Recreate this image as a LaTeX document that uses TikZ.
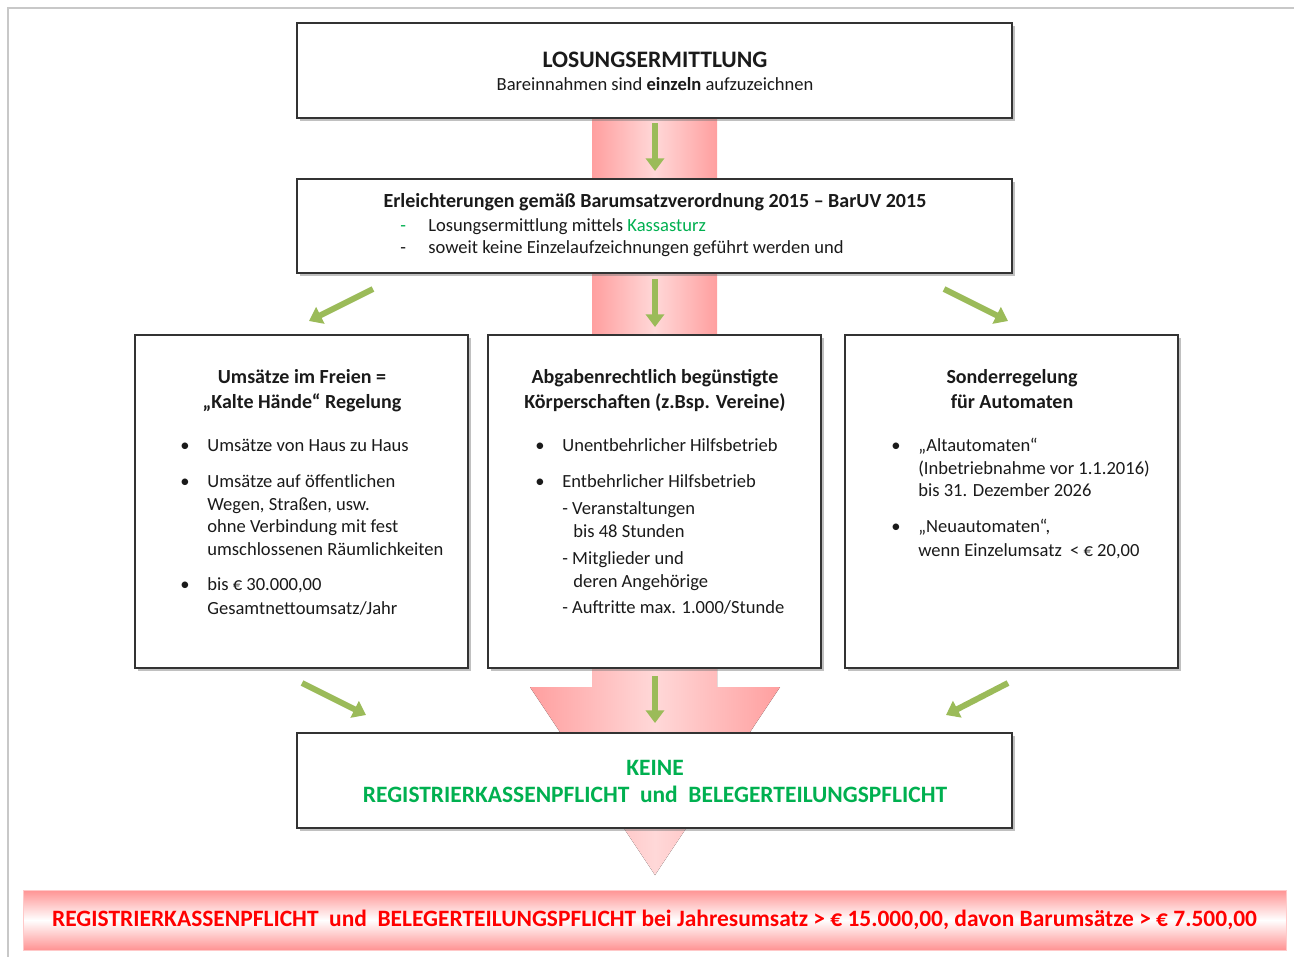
\documentclass[tikz,border=0pt]{standalone}
\usepackage{fontspec}
\setmainfont{Carlito}
\usetikzlibrary{arrows.meta,shadows}
\definecolor{frameGrey}{HTML}{C8C8C8}
\definecolor{boxLine}{HTML}{333333}
\definecolor{flowPink}{HTML}{FF9F9F}
\definecolor{flowPinkLight}{HTML}{FFD8D8}
\definecolor{bannerPink}{HTML}{FF9393}
\definecolor{arrowGreen}{HTML}{9BBB59}
\definecolor{okGreen}{HTML}{00B050}
\definecolor{alarmRed}{HTML}{FF0000}
\definecolor{bodyInk}{HTML}{1A1A1A}
\newcommand{\pxu}{0.55pt}
\tikzset{
  infobox/.style 2 args={rectangle, draw=boxLine, fill=white, line width=0.8pt, inner sep=0pt, minimum width=#1*\pxu, minimum height=#2*\pxu, drop shadow={shadow xshift=1.5pt, shadow yshift=-1.5pt, fill=black!55, opacity=0.45}},
  bodytext/.style={font=\fontsize{10.2}{12}\selectfont, text=bodyInk, inner sep=0pt, anchor=base west},
  headtext/.style={font=\fontsize{11}{13}\selectfont\bfseries, text=bodyInk, inner sep=0pt, anchor=base},
  pinkflow/.style={left color=flowPink, right color=flowPink, middle color=flowPinkLight},
  greenarrow/.style={draw=arrowGreen, line width=3.3pt, -{Triangle[length=7pt,width=10pt]}},
}

\begin{document}
\begin{tikzpicture}[x=0.55pt,y=-0.55pt]
  \useasboundingbox (0,0) rectangle (1294,957);
  \draw[frameGrey, line width=0.8pt] (8,957) -- (8,8) -- (1294,8);

  % pink flow behind the boxes
  \fill[pinkflow] (592,118) rectangle (717,179);
  \fill[pinkflow] (592,273) rectangle (717,335);
  \fill[pinkflow] (592,668) -- (717,668) -- (717,687) -- (780,687) -- (655,875) -- (530,687) -- (592,687) -- cycle;

  % boxes
  \node[infobox={715}{95}] (ermittlung) at (654.5,70.5) {};
  \node[infobox={715}{94}] (barUV) at (654.5,226) {};
  \node[infobox={333}{333}] (freien) at (301.5,501.5) {};
  \node[infobox={333}{333}] (vereine) at (654.5,501.5) {};
  \node[infobox={333}{333}] (automat) at (1011.5,501.5) {};
  \node[infobox={715}{95}] (keine) at (654.5,780.5) {};
  \node[rectangle, draw=bannerPink!50, top color=bannerPink, bottom color=bannerPink, middle color=white,
        minimum width=1263*\pxu, minimum height=60*\pxu, inner sep=0pt,
        font=\fontsize{12.9}{14}\selectfont\bfseries, text=alarmRed] (pflicht) at (654.5,920)
        {REGISTRIERKASSENPFLICHT\ \ und\ \ BELEGERTEILUNGSPFLICHT bei Jahresumsatz > € 15.000,00, davon Barumsätze > € 7.500,00};

  % top boxes
  \node[headtext, font=\fontsize{13}{15}\selectfont\bfseries] (t1) at (655,67) {LOSUNGSERMITTLUNG};
  \node[headtext, font=\fontsize{10.2}{12}\selectfont] (t2) at (655,90) {Bareinnahmen sind \textbf{einzeln} aufzuzeichnen};
  \node[headtext] (t3) at (655,207) {Erleichterungen gemäß Barumsatzverordnung 2015 – BarUV 2015};
  \node[bodytext, text=okGreen] (d1) at (400,231) {-};
  \node[bodytext] (d2) at (400,253) {-};
  \node[bodytext] (t4) at (428,231) {Losungsermittlung mittels \textcolor{okGreen}{Kassasturz}};
  \node[bodytext] (t5) at (428,253) {soweit keine Einzelaufzeichnungen geführt werden und};

  % left box
  \node[headtext] (fh1) at (302,383) {Umsätze im Freien =};
  \node[headtext] (fh2) at (302,408) {„Kalte Hände“ Regelung};
  \foreach \y in {451,487,590} { \node[bodytext] (fb\y) at (180,\y) {\textbullet}; }
  \foreach \y/\t in {451/{Umsätze von Haus zu Haus}, 487/{Umsätze auf öffentlichen}, 510/{Wegen, Straßen, usw.},
                     532/{ohne Verbindung mit fest}, 555/{umschlossenen Räumlichkeiten}, 590/{bis € 30.000,00},
                     614/{Gesamtnettoumsatz/Jahr}}
    { \node[bodytext] (fl\y) at (207,\y) {\t}; }

  % middle box
  \node[headtext] (vh1) at (655,383) {Abgabenrechtlich begünstigte};
  \node[headtext] (vh2) at (655,408) {Körperschaften (z.Bsp. Vereine)};
  \foreach \y in {451,487} { \node[bodytext] (vb\y) at (535,\y) {\textbullet}; }
  \foreach \y/\t in {451/{Unentbehrlicher Hilfsbetrieb}, 487/{Entbehrlicher Hilfsbetrieb}, 514/{- Veranstaltungen},
                     564/{- Mitglieder und}, 613/{- Auftritte max. 1.000/Stunde}}
    { \node[bodytext] (vl\y) at (562,\y) {\t}; }
  \foreach \y/\t in {537/{bis 48 Stunden}, 587/{deren Angehörige}}
    { \node[bodytext] (vl\y) at (573,\y) {\t}; }

  % right box
  \node[headtext] (ah1) at (1012,383) {Sonderregelung};
  \node[headtext] (ah2) at (1012,408) {für Automaten};
  \foreach \y in {451,532} { \node[bodytext] (ab\y) at (891,\y) {\textbullet}; }
  \foreach \y/\t in {451/{„Altautomaten“}, 474/{(Inbetriebnahme vor 1.1.2016)}, 496/{bis 31. Dezember 2026},
                     532/{„Neuautomaten“,}, 556/{wenn Einzelumsatz\ \ < € 20,00}}
    { \node[bodytext] (al\y) at (918,\y) {\t}; }

  % result box
  \node[headtext, font=\fontsize{12.9}{15}\selectfont\bfseries, text=okGreen] (k1) at (655,775) {KEINE};
  \node[headtext, font=\fontsize{12.9}{15}\selectfont\bfseries, text=okGreen] (k2) at (655,802)
    {REGISTRIERKASSENPFLICHT\ \ und\ \ BELEGERTEILUNGSPFLICHT};

  % green arrows
  \coordinate (g1a) at (655,123);  \coordinate (g1b) at (655,171);
  \coordinate (g2a) at (655,279);  \coordinate (g2b) at (655,327);
  \coordinate (gla) at (373,289);  \coordinate (glb) at (309,321);
  \coordinate (gra) at (944,289);  \coordinate (grb) at (1008,321);
  \coordinate (g3a) at (302,683);  \coordinate (g3b) at (366,715);
  \coordinate (g4a) at (655,676);  \coordinate (g4b) at (655,723);
  \coordinate (g5a) at (1008,683); \coordinate (g5b) at (946,715);
  \foreach \a/\b in {g1a/g1b, g2a/g2b, gla/glb, gra/grb, g3a/g3b, g4a/g4b, g5a/g5b}
    { \draw[greenarrow] (\a) -- (\b); }
\end{tikzpicture}
\end{document}
